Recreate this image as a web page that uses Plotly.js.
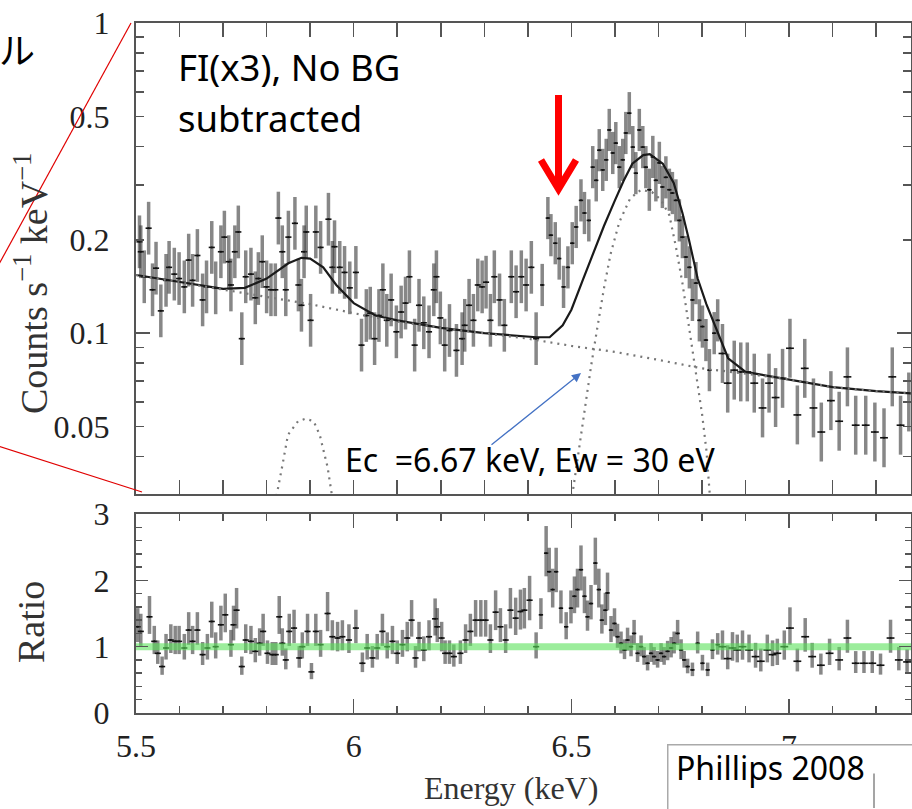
<!DOCTYPE html>
<html><head><meta charset="utf-8">
<script src="https://cdn.plot.ly/plotly-3.0.1.min.js"></script>
<style>html,body{margin:0;padding:0;background:#fff;} #chart{width:912px;height:809px;}</style>
</head><body><div id="chart"></div>
<script>
// ---------- spectrum data (counts s^-1 keV^-1) ----------
const specE_cont = [5.508,5.511,5.519,5.529,5.538,5.546,5.557,5.569,5.576,5.588,
  5.599,5.611,5.621,5.630,5.641,5.653,5.662,5.674,5.683,5.695,
  5.703,5.713,5.718,5.727,5.735,5.743,5.752,5.764,5.774,5.781,
  5.790,5.800,5.810,5.820,5.827,5.836,5.844,5.850,5.865,5.873,
  5.880,5.886,5.891,5.901,5.913,5.924,5.942,5.951,
  5.956,5.968,5.979,5.991,6.005,6.018,6.029,6.038,6.048,6.058,
  6.067,6.076,6.086,6.098,6.109,6.119,6.128,6.140,6.150,6.161,
  6.173,6.184,6.190,6.199,6.209,6.220,6.236,6.249,6.255,6.265,
  6.275,6.285,6.295,6.304,6.314,6.323,6.335,6.346,6.362,6.373,
  6.385,6.396,6.408,6.419];
const specV_cont = [0.197,0.183,0.152,0.218,0.138,0.162,0.118,0.148,0.163,0.155,
  0.150,0.141,0.172,0.148,0.178,0.128,0.141,0.189,0.140,0.183,
  0.204,0.170,0.143,0.183,0.212,0.096,0.152,0.155,0.130,0.150,
  0.170,0.141,0.138,0.138,0.235,0.183,0.138,0.204,0.226,0.143,
  0.123,0.183,0.212,0.110,0.212,0.189,0.233,0.163,
  0.190,0.163,0.157,0.140,0.157,0.0915,0.114,0.116,0.096,0.114,
  0.138,0.110,0.128,0.101,0.117,0.125,0.152,0.0915,0.123,0.108,
  0.101,0.138,0.152,0.112,0.0915,0.102,0.088,0.096,0.106,0.123,
  0.110,0.143,0.141,0.146,0.110,0.152,0.128,0.106,0.152,0.136,
  0.152,0.143,0.163,0.096];
const specE_line = [6.433,6.446,6.453,6.463,6.472,6.482,6.492,6.502,6.511,6.522,
  6.530,6.540,6.549,6.557,6.564,6.572,6.580,6.587,6.595,6.602,
  6.610,6.618,6.625,6.633,6.641,6.648,6.656,6.664,6.671,6.679,
  6.687,6.694,6.702,6.709,6.717,6.725,6.732,6.740,6.748,6.755,
  6.763,6.771,6.778,6.786,6.794,6.801,6.809,6.817,6.828,6.836];
const specV_line = [0.143,0.235,0.207,0.195,0.174,0.141,0.163,0.195,0.220,0.268,
  0.244,0.231,0.343,0.311,0.389,0.336,0.362,0.452,0.381,0.410,
  0.343,0.362,0.442,0.512,0.398,0.328,0.452,0.398,0.343,0.290,
  0.370,0.311,0.354,0.296,0.318,0.290,0.283,0.268,0.231,0.204,
  0.176,0.163,0.128,0.145,0.110,0.105,0.095,0.076,0.100,0.110];
const specE_tail = [6.847,6.859,6.874,6.889,6.904,6.920,6.939,6.954,6.969,6.985,
  7.002,7.019,7.036,7.056,7.074,7.096,7.115,7.134,7.153,7.176,
  7.197,7.218,7.237,7.256,7.275];
const specV_tail = [0.086,0.069,0.076,0.075,0.075,0.069,0.0574,0.069,0.062,0.0715,
  0.0894,0.0545,0.077,0.0574,0.048,0.0606,0.052,0.0723,0.0505,0.0505,
  0.048,0.046,0.0723,0.0505,0.060];
// typical 1-sigma error (dex) and bin half-width (keV) per segment
const errDex = {cont:0.085, line:0.068, tail:0.095};
const binHalf = {cont:0.007, line:0.005, tail:0.009};

// ---------- model curves ----------
const modelE = [5.5,5.55,5.6,5.65,5.7,5.75,5.8,5.85,5.88,5.9,5.93,5.96,6.0,6.05,6.1,6.2,6.3,6.42,6.45,6.48,
  6.5,6.525,6.55,6.575,6.6,6.62,6.64,6.665,6.68,6.71,6.735,6.755,6.77,6.79,6.81,6.83,6.86,6.9,6.95,7.0,7.1,7.2,7.28];
const modelV = [0.154,0.150,0.146,0.142,0.139,0.140,0.150,0.168,0.175,0.174,0.163,0.143,0.125,0.114,0.110,0.104,0.100,0.097,0.097,0.106,
  0.119,0.147,0.182,0.222,0.268,0.310,0.352,0.375,0.378,0.352,0.305,0.244,0.200,0.150,0.124,0.105,0.083,0.075,0.073,0.071,0.067,0.065,0.064];
const contE = [5.5,5.6,5.7,5.8,5.9,6.0,6.1,6.2,6.3,6.4,6.5,6.6,6.7,6.8,6.9,7.0,7.1,7.2,7.28];
const contV = [0.154,0.146,0.138,0.131,0.124,0.116,0.109,0.104,0.100,0.096,0.091,0.087,0.082,0.077,0.074,0.071,0.067,0.065,0.064];
const g1E = [5.815,5.823,5.837,5.849,5.872,5.89,5.908,5.922,5.94,5.95,5.958];
const g1V = [0.027,0.030,0.038,0.047,0.052,0.053,0.052,0.047,0.037,0.030,0.027];
const g2E = [6.495,6.502,6.515,6.53,6.545,6.56,6.575,6.59,6.61,6.635,6.66,6.685,6.705,6.725,6.74,6.755,6.77,6.785,6.8,6.81,6.818,6.825];
const g2V = [0.027,0.030,0.040,0.056,0.078,0.105,0.14,0.18,0.228,0.272,0.29,0.285,0.27,0.24,0.19,0.145,0.105,0.077,0.055,0.042,0.030,0.027];

// ---------- ratio data ----------
const ratioE_cont = [5.504,5.511,5.531,5.542,5.550,5.560,5.569,5.580,5.590,5.599,
  5.611,5.621,5.630,5.641,5.653,5.664,5.674,5.683,5.695,5.705,
  5.718,5.724,5.731,5.743,5.752,5.764,5.774,5.784,5.792,5.802,
  5.813,5.821,5.829,5.836,5.844,5.852,5.863,5.875,5.882,5.894,
  5.903,5.913,5.924,5.940,5.951,5.963,5.974,5.989,6.005,6.020,
  6.031,6.043,6.054,6.066,6.077,6.089,6.100,6.112,6.123,6.133,
  6.142,6.150,6.161,6.173,6.187,6.192,6.202,6.210,6.220,6.230,
  6.245,6.257,6.268,6.280,6.292,6.303,6.314,6.326,6.337,6.349,
  6.360,6.372,6.383,6.392,6.404,6.419];
const ratioV_cont = [1.30,1.23,1.45,1.08,0.90,0.70,0.98,1.10,1.08,1.08,
  0.98,1.25,1.08,1.25,0.88,0.98,1.38,1.00,1.33,1.48,
  1.03,1.33,1.55,0.70,1.10,1.08,0.93,1.05,1.23,0.90,
  0.88,0.88,1.45,1.05,0.80,1.23,1.28,0.83,1.00,1.23,
  0.62,1.23,1.03,1.50,1.15,1.13,1.15,1.10,1.28,0.75,
  0.98,0.83,0.98,1.23,1.00,1.08,0.90,1.03,1.13,1.40,
  0.83,1.13,0.95,1.15,1.42,1.30,1.13,0.90,0.90,0.85,
  0.90,1.10,1.23,1.40,1.40,1.40,1.10,1.52,1.30,1.10,
  1.55,1.43,1.53,1.55,1.70,1.00];
const ratioE_line = [6.430,6.442,6.449,6.457,6.465,6.476,6.488,6.499,6.507,6.514,
  6.522,6.530,6.537,6.545,6.555,6.563,6.570,6.578,6.583,6.591,
  6.599,6.606,6.614,6.622,6.629,6.637,6.644,6.652,6.660,6.667,
  6.675,6.683,6.690,6.698,6.706,6.713,6.721,6.729,6.736,6.744,
  6.752,6.759,6.767,6.778,6.790,6.801,6.813,6.824,6.836];
const ratioV_line = [1.48,2.41,2.13,1.86,2.13,1.58,1.30,1.58,1.76,1.86,
  2.16,1.76,1.45,1.65,2.26,1.86,1.40,1.55,1.81,1.25,
  1.35,1.15,1.05,0.95,1.10,1.00,1.20,0.90,1.00,0.85,
  0.75,0.90,0.85,0.80,0.90,0.85,0.93,0.98,1.05,1.20,
  0.95,0.80,0.70,0.65,1.05,0.75,0.65,0.95,1.03];
const ratioE_tail = [6.847,6.859,6.870,6.881,6.893,6.908,6.923,6.935,6.950,6.962,
  6.973,6.989,7.002,7.019,7.037,7.053,7.073,7.093,7.115,7.134,
  7.153,7.172,7.191,7.210,7.233,7.252,7.271];
const ratioV_tail = [1.00,0.82,0.98,0.95,1.00,0.95,0.85,0.78,0.95,0.88,
  0.90,1.00,1.28,0.78,1.15,0.85,0.72,0.90,0.80,1.13,
  0.75,0.75,0.75,0.72,1.13,0.80,0.77];
const unityE = [5.5, 7.28];
const unityV = [1, 1];

// axis settings
const xRange = [5.5, 7.28];
const yTickVals = [0.04,0.05,0.06,0.07,0.08,0.09,0.1,0.2,0.3,0.4,0.5,0.6,0.7,0.8,0.9,1];
const yTickText = ['','0.05','','','','','0.1','0.2','','','0.5','','','','','1'];
const yDecades = [0.1, 1];
const yMin = 0.0303, yMax = 1;

// ---------- helpers ----------
function errHi(v,d){return v.map(a=>a*(Math.pow(10,d)-1));}
function errLo(v,d){return v.map(a=>a*(1-Math.pow(10,-d)));}
function dataTrace(E,V,d,hw,xa,ya){
  return {type:'scatter', mode:'markers', x:E, y:V, xaxis:xa, yaxis:ya,
    marker:{size:2, color:'#111'},
    error_y:{type:'data', symmetric:false, array:errHi(V,d), arrayminus:errLo(V,d),
      color:'rgba(55,55,55,0.6)', thickness:3.5, width:0},
    error_x:{type:'constant', value:hw, color:'#111', thickness:1.6, width:0},
    showlegend:false, hoverinfo:'skip'};
}
const dotLine = {color:'#777', width:2.2, dash:'2px,5px'};

const traces = [
  dataTrace(specE_cont, specV_cont, errDex.cont, binHalf.cont, 'x','y'),
  dataTrace(specE_line, specV_line, errDex.line, binHalf.line, 'x','y'),
  dataTrace(specE_tail, specV_tail, errDex.tail, binHalf.tail, 'x','y'),
  {type:'scatter', mode:'lines', x:contE, y:contV, xaxis:'x', yaxis:'y3', line:dotLine, showlegend:false, hoverinfo:'skip'},
  {type:'scatter', mode:'lines', x:g1E, y:g1V, xaxis:'x', yaxis:'y', line:dotLine, showlegend:false, hoverinfo:'skip'},
  {type:'scatter', mode:'lines', x:g2E, y:g2V, xaxis:'x', yaxis:'y', line:dotLine, showlegend:false, hoverinfo:'skip'},
  {type:'scatter', mode:'lines', x:modelE, y:modelV, xaxis:'x', yaxis:'y', line:{color:'#1a1a1a', width:2.2}, showlegend:false, hoverinfo:'skip'},
  dataTrace(ratioE_cont, ratioV_cont, errDex.cont, binHalf.cont, 'x2','y2'),
  dataTrace(ratioE_line, ratioV_line, errDex.line, binHalf.line, 'x2','y2'),
  dataTrace(ratioE_tail, ratioV_tail, errDex.tail, binHalf.tail, 'x2','y2'),
  {type:'scatter', mode:'lines', x:unityE, y:unityV, xaxis:'x2', yaxis:'y2', line:{color:'rgba(90,225,90,0.6)', width:7}, showlegend:false, hoverinfo:'skip'}
];

// pixel -> paper helpers for the slide overlay decorations
const L=136, R=911, T=23, B=713;
function px(X){return (X-L)/(R-L);}
function py(Y){return (B-Y)/(B-T);}

const serif = 'Liberation Serif, Times New Roman, serif';
const sans = 'Noto Sans, Open Sans, sans-serif';
const tickFont = {family:serif, size:32, color:'#222'};
const frame = {showline:true, linecolor:'#555', linewidth:2, mirror:'allticks', ticks:'inside',
  tickcolor:'#555', tickwidth:1.5, showgrid:false, zeroline:false};

const layout = {
  width:912, height:809, paper_bgcolor:'#fff', plot_bgcolor:'#fff',
  margin:{l:L, r:912-R, t:T, b:809-B}, showlegend:false,
  xaxis: Object.assign({}, frame, {domain:[0,1], anchor:'y', range:xRange, tick0:5.5, dtick:0.5, ticklen:14,
    minor:{tick0:5.5, dtick:0.1, ticklen:7, ticks:'inside', tickcolor:'#555', tickwidth:1.5},
    showticklabels:false}),
  yaxis: Object.assign({}, frame, {domain:[(B-494)/(B-T),1], anchor:'x', type:'log',
    range:[Math.log10(yMin), Math.log10(yMax)], tickmode:'array', tickvals:yTickVals, ticktext:yTickText,
    ticklen:8, tickfont:tickFont, ticklabelstandoff:18}),
  yaxis3: {overlaying:'y', anchor:'x', side:'left', type:'log', range:[Math.log10(yMin), Math.log10(yMax)],
    tickmode:'array', tickvals:yDecades, ticks:'inside', ticklen:14, tickcolor:'#555', tickwidth:1.5,
    mirror:'allticks', showline:false, showticklabels:false, showgrid:false, zeroline:false},
  xaxis2: Object.assign({}, frame, {domain:[0,1], anchor:'y2', range:xRange, tick0:5.5, dtick:0.5, ticklen:14,
    minor:{tick0:5.5, dtick:0.1, ticklen:7, ticks:'inside', tickcolor:'#555', tickwidth:1.5},
    tickfont:tickFont, ticklabelstandoff:4}),
  yaxis2: Object.assign({}, frame, {domain:[0,(B-514)/(B-T)], anchor:'x2', range:[0,3], tick0:0, dtick:1, ticklen:12,
    minor:{dtick:0.2, ticklen:6, ticks:'inside', tickcolor:'#555', tickwidth:1.5},
    tickfont:tickFont, ticklabelstandoff:18}),
  shapes: [
    {type:'line', xref:'paper', yref:'paper', x0:px(131), y0:py(23), x1:px(-2), y1:py(266), line:{color:'#e00000', width:1.2}, layer:'above'},
    {type:'line', xref:'paper', yref:'paper', x0:px(-2), y0:py(446), x1:px(142), y1:py(492), line:{color:'#e00000', width:1.2}, layer:'above'},
    {type:'line', xref:'paper', yref:'paper', x0:px(558.5), y0:py(95), x1:px(558.5), y1:py(184), line:{color:'#ff0000', width:7}, layer:'above'},
    {type:'path', xref:'paper', yref:'paper', path:'M '+px(541)+' '+py(160)+' L '+px(558.5)+' '+py(189)+' L '+px(576)+' '+py(160),
      line:{color:'#ff0000', width:7}, layer:'above'}
  ],
  annotations: [
    {xref:'paper', yref:'paper', x:px(31), y:py(283), text:'Counts s<sup>−1</sup> keV<sup>−1</sup>', textangle:-90,
      showarrow:false, xanchor:'center', yanchor:'middle', font:{family:serif, size:38, color:'#333'}},
    {xref:'paper', yref:'paper', x:px(31), y:py(622), text:'Ratio', textangle:-90,
      showarrow:false, xanchor:'center', yanchor:'middle', font:{family:serif, size:38, color:'#333'}},
    {xref:'paper', yref:'paper', x:px(511), y:py(788), text:'Energy (keV)',
      showarrow:false, xanchor:'center', yanchor:'middle', font:{family:serif, size:32, color:'#333'}},
    {xref:'paper', yref:'paper', x:px(176), y:py(67), text:'FI(x3), No BG', showarrow:false, xanchor:'left', yanchor:'middle',
      font:{family:sans, size:36.5, color:'#000'}},
    {xref:'paper', yref:'paper', x:px(176), y:py(118), text:'subtracted', showarrow:false, xanchor:'left', yanchor:'middle',
      font:{family:sans, size:36.5, color:'#000'}},
    {xref:'paper', yref:'paper', x:px(343), y:py(459), text:'Ec\u00a0\u00a0=6.67 keV, Ew = 30 eV', showarrow:false, xanchor:'left', yanchor:'middle',
      font:{family:sans, size:32, color:'#000'}},
    {xref:'paper', yref:'paper', x:px(581), y:py(373), ax:-91, ay:73, text:'', showarrow:true, arrowhead:2, arrowsize:1.4,
      arrowwidth:1.3, arrowcolor:'#4472c4', standoff:0},
    // inset (Phillips 2008) panel box covering the lower right corner
    {xref:'paper', yref:'paper', x:px(667), y:py(744), xanchor:'left', yanchor:'top', text:' ', showarrow:false,
      width:255, height:75, bgcolor:'#fff', bordercolor:'#aaa', borderwidth:1.5, font:{size:10}},
    {xref:'paper', yref:'paper', x:px(874), y:py(810), ax:0, ay:-38, text:'', showarrow:true, arrowhead:0,
      arrowwidth:1.5, arrowcolor:'#888', standoff:0},
    {xref:'paper', yref:'paper', x:px(674), y:py(768), text:'Phillips 2008', showarrow:false, xanchor:'left', yanchor:'middle',
      font:{family:sans, size:32, color:'#000'}},
    {xref:'paper', yref:'paper', x:px(-3), y:py(48), text:'ル', showarrow:false, xanchor:'left', yanchor:'middle',
      font:{family:'Noto Sans CJK JP, sans-serif', size:36, color:'#000'}}
  ]
};

Plotly.newPlot('chart', traces, layout, {displayModeBar:false, staticPlot:true});
</script>
</body></html>
